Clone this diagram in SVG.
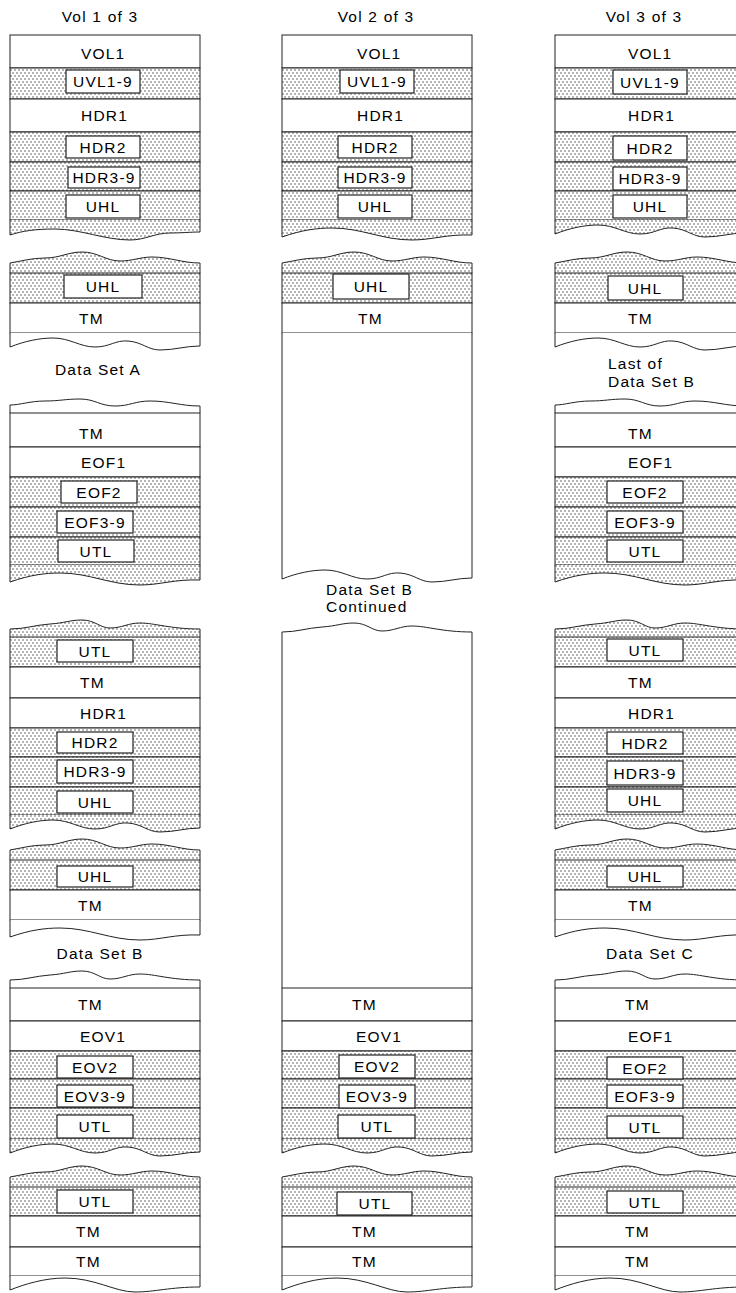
<svg xmlns="http://www.w3.org/2000/svg" xmlns:xlink="http://www.w3.org/1999/xlink" width="736" height="1293" viewBox="0 0 736 1293">
<style>
.w{fill:#fff;stroke:#222;stroke-width:1}
.d{fill:url(#dots);stroke:#222;stroke-width:1}
.f{fill:#fff;stroke:none}
.s{stroke:#222;stroke-width:1;fill:none}
.b{fill:#fff;stroke:#222;stroke-width:1.2}
.t{font-family:"Liberation Sans",Arial,Helvetica,sans-serif;font-size:15.5px;letter-spacing:1.2px;fill:#000}
.c{text-anchor:middle}
</style>
<defs>
<pattern id="dots" patternUnits="userSpaceOnUse" width="4" height="6">
<rect width="4" height="6" fill="#fff"/>
<circle cx="1" cy="1" r="0.7" fill="#333"/>
<circle cx="3" cy="4" r="0.7" fill="#333"/>
</pattern>
<path id="wb1" d="M0,0 V15 C12,11 25,9 45,9 C70,9 95,20 120,20 C135,20 145,13 160,13 C172,13 180,12 190,12 V0"/>
<path id="wb2" d="M0,0 V14 C15,8 30,5 43,5 C60,5 70,14 85,14 C100,14 105,7 118,8 C132,9 138,17 150,17 C165,17 175,13 190,13 V0"/>
<path id="wb3" d="M0,0 V17 C20,10 35,8 50,8 C80,8 100,20 130,20 C150,20 165,14 190,15 V0"/>
<path id="wb4" d="M0,0 V14 C15,8 35,2 55,2 C85,2 105,16 125,16 C145,16 160,11 190,11 V0"/>
<path id="wt1" d="M0,0 V-10 C12,-12 22,-15 35,-15 C50,-15 58,-21 72,-21 C88,-21 96,-12 110,-12 C123,-12 130,-16 142,-16 C160,-16 172,-10 190,-10 V0"/>
<path id="wt2" d="M0,0 V-8 C10,-8 20,-12 35,-12 C50,-12 55,-14 70,-14 C85,-14 90,-7 105,-7 C120,-7 125,-12 140,-12 C160,-12 170,-7 190,-7 V0"/>
<path id="wt3" d="M0,0 V-8 C15,-8 25,-12 40,-13 C55,-14 60,-17 72,-17 C85,-17 90,-9 100,-9 C112,-9 118,-14 130,-14 C145,-14 160,-8 190,-8 V0"/>
</defs>

<g id="titles">
<text class="t c" x="100" y="22">Vol 1 of 3</text>
<text class="t c" x="376" y="22">Vol 2 of 3</text>
<text class="t c" x="644" y="22">Vol 3 of 3</text>
</g>

<!-- Column 1 -->
<g id="v1-a">
<rect class="w" x="10" y="35" width="190" height="33"/>
<rect class="d" x="10" y="68" width="190" height="31"/>
<rect class="w" x="10" y="99" width="190" height="33"/>
<rect class="d" x="10" y="132" width="190" height="30"/>
<rect class="d" x="10" y="162" width="190" height="29"/>
<rect class="d" x="10" y="191" width="190" height="29"/>
<use href="#wb1" class="d" transform="translate(10,220)"/>
<text class="t" x="81" y="59">VOL1</text>
<rect class="b" x="66" y="70" width="74" height="23"/><text class="t c" x="103" y="87">UVL1-9</text>
<text class="t" x="81" y="121">HDR1</text>
<rect class="b" x="66" y="136" width="74" height="22"/><text class="t c" x="103" y="152.5">HDR2</text>
<rect class="b" x="68" y="167" width="72" height="21"/><text class="t c" x="104" y="183">HDR3-9</text>
<rect class="b" x="66" y="195" width="74" height="23"/><text class="t c" x="103" y="212">UHL</text>
</g>
<g id="v1-b">
<use href="#wt1" class="d" transform="translate(10,273)"/>
<rect class="d" x="10" y="273" width="190" height="30"/>
<rect class="w" x="10" y="303" width="190" height="30"/>
<use href="#wb2" class="w" transform="translate(10,333)"/>
<rect class="b" x="64" y="275" width="78" height="23"/><text class="t c" x="103" y="292">UHL</text>
<text class="t" x="79" y="323.5">TM</text>
</g>
<text id="lbl-dsa" class="t c" x="98" y="375">Data Set A</text>
<g id="v1-c">
<use href="#wt2" class="w" transform="translate(10,413)"/>
<rect class="w" x="10" y="413" width="190" height="34"/>
<rect class="w" x="10" y="447" width="190" height="30"/>
<rect class="d" x="10" y="477" width="190" height="30"/>
<rect class="d" x="10" y="507" width="190" height="30"/>
<rect class="d" x="10" y="537" width="190" height="28"/>
<use href="#wb3" class="d" transform="translate(10,565)"/>
<text class="t" x="79" y="439">TM</text>
<text class="t" x="81" y="467.5">EOF1</text>
<rect class="b" x="61" y="481" width="76" height="22"/><text class="t c" x="99" y="497.5">EOF2</text>
<rect class="b" x="57" y="511" width="76" height="22"/><text class="t c" x="95" y="527.5">EOF3-9</text>
<rect class="b" x="58" y="540" width="76" height="22"/><text class="t c" x="96" y="556.5">UTL</text>
</g>
<g id="v1-d">
<use href="#wt3" class="d" transform="translate(10,637)"/>
<rect class="d" x="10" y="637" width="190" height="30"/>
<rect class="w" x="10" y="667" width="190" height="31"/>
<rect class="w" x="10" y="698" width="190" height="30"/>
<rect class="d" x="10" y="728" width="190" height="29"/>
<rect class="d" x="10" y="757" width="190" height="30"/>
<rect class="d" x="10" y="787" width="190" height="28"/>
<use href="#wb2" class="d" transform="translate(10,815)"/>
<rect class="b" x="57" y="640" width="76" height="22"/><text class="t c" x="95" y="656.5">UTL</text>
<text class="t" x="80" y="688">TM</text>
<text class="t" x="80" y="718.5">HDR1</text>
<rect class="b" x="57" y="732" width="76" height="21"/><text class="t c" x="95" y="748">HDR2</text>
<rect class="b" x="57" y="760" width="76" height="23"/><text class="t c" x="95" y="777">HDR3-9</text>
<rect class="b" x="57" y="791" width="76" height="22"/><text class="t c" x="95" y="807.5">UHL</text>
</g>
<g id="v1-e">
<use href="#wt1" class="d" transform="translate(10,860)"/>
<rect class="d" x="10" y="860" width="190" height="30"/>
<rect class="w" x="10" y="890" width="190" height="30"/>
<use href="#wb3" class="w" transform="translate(10,920)"/>
<rect class="b" x="57" y="866" width="76" height="21"/><text class="t c" x="95" y="882">UHL</text>
<text class="t" x="78" y="910.5">TM</text>
</g>
<text id="lbl-dsb1" class="t c" x="100" y="958.5">Data Set B</text>
<g id="v1-f">
<use href="#wt3" class="w" transform="translate(10,988)"/>
<rect class="w" x="10" y="988" width="190" height="33"/>
<rect class="w" x="10" y="1021" width="190" height="30"/>
<rect class="d" x="10" y="1051" width="190" height="28"/>
<rect class="d" x="10" y="1079" width="190" height="29"/>
<rect class="d" x="10" y="1108" width="190" height="31"/>
<use href="#wb2" class="d" transform="translate(10,1139)"/>
<text class="t" x="78" y="1010">TM</text>
<text class="t" x="80" y="1041.5">EOV1</text>
<rect class="b" x="57" y="1056" width="76" height="22"/><text class="t c" x="95" y="1072.5">EOV2</text>
<rect class="b" x="57" y="1085" width="76" height="22"/><text class="t c" x="95" y="1101.5">EOV3-9</text>
<rect class="b" x="57" y="1115" width="76" height="23"/><text class="t c" x="95" y="1132">UTL</text>
</g>
<g id="v1-g">
<use href="#wt1" class="d" transform="translate(10,1187)"/>
<rect class="d" x="10" y="1187" width="190" height="29"/>
<rect class="w" x="10" y="1216" width="190" height="31"/>
<rect class="w" x="10" y="1247" width="190" height="29"/>
<use href="#wb4" class="w" transform="translate(10,1276)"/>
<rect class="b" x="57" y="1190" width="76" height="23"/><text class="t c" x="95" y="1207">UTL</text>
<text class="t" x="76" y="1237">TM</text>
<text class="t" x="76" y="1267">TM</text>
</g>

<!-- Column 2 -->
<g id="v2-a">
<rect class="w" x="282" y="35" width="190" height="33"/>
<rect class="d" x="282" y="68" width="190" height="31"/>
<rect class="w" x="282" y="99" width="190" height="33"/>
<rect class="d" x="282" y="132" width="190" height="30"/>
<rect class="d" x="282" y="162" width="190" height="29"/>
<rect class="d" x="282" y="191" width="190" height="29"/>
<use href="#wb3" class="d" transform="translate(282,220)"/>
<text class="t" x="357" y="59">VOL1</text>
<rect class="b" x="340" y="70" width="74" height="23"/><text class="t c" x="377" y="87">UVL1-9</text>
<text class="t" x="357" y="121">HDR1</text>
<rect class="b" x="338" y="136" width="74" height="22"/><text class="t c" x="375" y="152.5">HDR2</text>
<rect class="b" x="338" y="167" width="74" height="21"/><text class="t c" x="375" y="183">HDR3-9</text>
<rect class="b" x="338" y="195" width="74" height="23"/><text class="t c" x="375" y="212">UHL</text>
</g>
<g id="v2-b">
<use href="#wt1" class="d" transform="translate(282,273)"/>
<rect class="d" x="282" y="273" width="190" height="30"/>
<rect class="w" x="282" y="303" width="190" height="30"/>
<rect class="f" x="282" y="333" width="190" height="232"/>
<path class="s" d="M282,333 V565 M472,333 V565"/>
<use href="#wb2" class="w" transform="translate(282,565)"/>
<rect class="b" x="333" y="274" width="76" height="25"/><text class="t c" x="371" y="292">UHL</text>
<text class="t" x="358" y="323.5">TM</text>
</g>
<g id="lbl-dsbc">
<text class="t" x="326" y="595">Data Set B</text>
<text class="t" x="326" y="612">Continued</text>
</g>
<g id="v2-d">
<use href="#wt3" class="w" transform="translate(282,640)"/>
<rect class="f" x="282" y="640" width="190" height="348"/>
<path class="s" d="M282,640 V988 M472,640 V988"/>
<rect class="w" x="282" y="988" width="190" height="33"/>
<rect class="w" x="282" y="1021" width="190" height="30"/>
<rect class="d" x="282" y="1051" width="190" height="28"/>
<rect class="d" x="282" y="1079" width="190" height="29"/>
<rect class="d" x="282" y="1108" width="190" height="31"/>
<use href="#wb2" class="d" transform="translate(282,1139)"/>
<text class="t" x="352" y="1010">TM</text>
<text class="t" x="356" y="1041.5">EOV1</text>
<rect class="b" x="339" y="1055" width="76" height="23"/><text class="t c" x="377" y="1072">EOV2</text>
<rect class="b" x="339" y="1085" width="76" height="23"/><text class="t c" x="377" y="1102">EOV3-9</text>
<rect class="b" x="338" y="1115" width="77" height="23"/><text class="t c" x="377" y="1132">UTL</text>
</g>
<g id="v2-g">
<use href="#wt1" class="d" transform="translate(282,1187)"/>
<rect class="d" x="282" y="1187" width="190" height="29"/>
<rect class="w" x="282" y="1216" width="190" height="31"/>
<rect class="w" x="282" y="1247" width="190" height="29"/>
<use href="#wb4" class="w" transform="translate(282,1276)"/>
<rect class="b" x="337" y="1192" width="75" height="23"/><text class="t c" x="375" y="1209">UTL</text>
<text class="t" x="352" y="1237">TM</text>
<text class="t" x="352" y="1267">TM</text>
</g>

<!-- Column 3 -->
<g id="v3-a">
<rect class="w" x="555" y="35" width="190" height="33"/>
<rect class="d" x="555" y="68" width="190" height="31"/>
<rect class="w" x="555" y="99" width="190" height="33"/>
<rect class="d" x="555" y="132" width="190" height="30"/>
<rect class="d" x="555" y="162" width="190" height="29"/>
<rect class="d" x="555" y="191" width="190" height="29"/>
<use href="#wb2" class="d" transform="translate(555,220)"/>
<text class="t" x="628" y="59">VOL1</text>
<rect class="b" x="613" y="70" width="74" height="24"/><text class="t c" x="650" y="87.5">UVL1-9</text>
<text class="t" x="628" y="121">HDR1</text>
<rect class="b" x="613" y="136" width="74" height="24"/><text class="t c" x="650" y="153.5">HDR2</text>
<rect class="b" x="613" y="167" width="74" height="23"/><text class="t c" x="650" y="184">HDR3-9</text>
<rect class="b" x="613" y="195" width="74" height="23"/><text class="t c" x="650" y="212">UHL</text>
</g>
<g id="v3-b">
<use href="#wt1" class="d" transform="translate(555,273)"/>
<rect class="d" x="555" y="273" width="190" height="30"/>
<rect class="w" x="555" y="303" width="190" height="30"/>
<use href="#wb2" class="w" transform="translate(555,333)"/>
<rect class="b" x="608" y="276" width="75" height="24"/><text class="t c" x="645" y="293.5">UHL</text>
<text class="t" x="628" y="323.5">TM</text>
</g>
<g id="lbl-lastb">
<text class="t" x="608" y="368.5">Last of</text>
<text class="t" x="608" y="387">Data Set B</text>
</g>
<g id="v3-c">
<use href="#wt2" class="w" transform="translate(555,413)"/>
<rect class="w" x="555" y="413" width="190" height="34"/>
<rect class="w" x="555" y="447" width="190" height="30"/>
<rect class="d" x="555" y="477" width="190" height="30"/>
<rect class="d" x="555" y="507" width="190" height="30"/>
<rect class="d" x="555" y="537" width="190" height="28"/>
<use href="#wb3" class="d" transform="translate(555,565)"/>
<text class="t" x="628" y="439">TM</text>
<text class="t" x="628" y="467.5">EOF1</text>
<rect class="b" x="607" y="481" width="76" height="22"/><text class="t c" x="645" y="497.5">EOF2</text>
<rect class="b" x="607" y="511" width="76" height="22"/><text class="t c" x="645" y="527.5">EOF3-9</text>
<rect class="b" x="607" y="540" width="76" height="22"/><text class="t c" x="645" y="556.5">UTL</text>
</g>
<g id="v3-d">
<use href="#wt3" class="d" transform="translate(555,637)"/>
<rect class="d" x="555" y="637" width="190" height="30"/>
<rect class="w" x="555" y="667" width="190" height="31"/>
<rect class="w" x="555" y="698" width="190" height="30"/>
<rect class="d" x="555" y="728" width="190" height="29"/>
<rect class="d" x="555" y="757" width="190" height="30"/>
<rect class="d" x="555" y="787" width="190" height="28"/>
<use href="#wb2" class="d" transform="translate(555,815)"/>
<rect class="b" x="607" y="639" width="76" height="22"/><text class="t c" x="645" y="655.5">UTL</text>
<text class="t" x="628" y="688">TM</text>
<text class="t" x="628" y="718.5">HDR1</text>
<rect class="b" x="607" y="732" width="76" height="22"/><text class="t c" x="645" y="748.5">HDR2</text>
<rect class="b" x="607" y="761" width="76" height="24"/><text class="t c" x="645" y="778.5">HDR3-9</text>
<rect class="b" x="607" y="789" width="76" height="23"/><text class="t c" x="645" y="806">UHL</text>
</g>
<g id="v3-e">
<use href="#wt1" class="d" transform="translate(555,860)"/>
<rect class="d" x="555" y="860" width="190" height="30"/>
<rect class="w" x="555" y="890" width="190" height="30"/>
<use href="#wb3" class="w" transform="translate(555,920)"/>
<rect class="b" x="607" y="866" width="76" height="21"/><text class="t c" x="645" y="882">UHL</text>
<text class="t" x="628" y="910.5">TM</text>
</g>
<text id="lbl-dsc" class="t c" x="650" y="958.5">Data Set C</text>
<g id="v3-f">
<use href="#wt3" class="w" transform="translate(555,988)"/>
<rect class="w" x="555" y="988" width="190" height="33"/>
<rect class="w" x="555" y="1021" width="190" height="30"/>
<rect class="d" x="555" y="1051" width="190" height="28"/>
<rect class="d" x="555" y="1079" width="190" height="29"/>
<rect class="d" x="555" y="1108" width="190" height="31"/>
<use href="#wb2" class="d" transform="translate(555,1139)"/>
<text class="t" x="625" y="1010">TM</text>
<text class="t" x="628" y="1041.5">EOF1</text>
<rect class="b" x="607" y="1057" width="76" height="22"/><text class="t c" x="645" y="1073.5">EOF2</text>
<rect class="b" x="607" y="1085" width="76" height="23"/><text class="t c" x="645" y="1102">EOF3-9</text>
<rect class="b" x="607" y="1116" width="76" height="22"/><text class="t c" x="645" y="1132.5">UTL</text>
</g>
<g id="v3-g">
<use href="#wt1" class="d" transform="translate(555,1187)"/>
<rect class="d" x="555" y="1187" width="190" height="29"/>
<rect class="w" x="555" y="1216" width="190" height="31"/>
<rect class="w" x="555" y="1247" width="190" height="29"/>
<use href="#wb4" class="w" transform="translate(555,1276)"/>
<rect class="b" x="607" y="1191" width="76" height="22"/><text class="t c" x="645" y="1207.5">UTL</text>
<text class="t" x="625" y="1237">TM</text>
<text class="t" x="625" y="1267">TM</text>
</g>
</svg>
